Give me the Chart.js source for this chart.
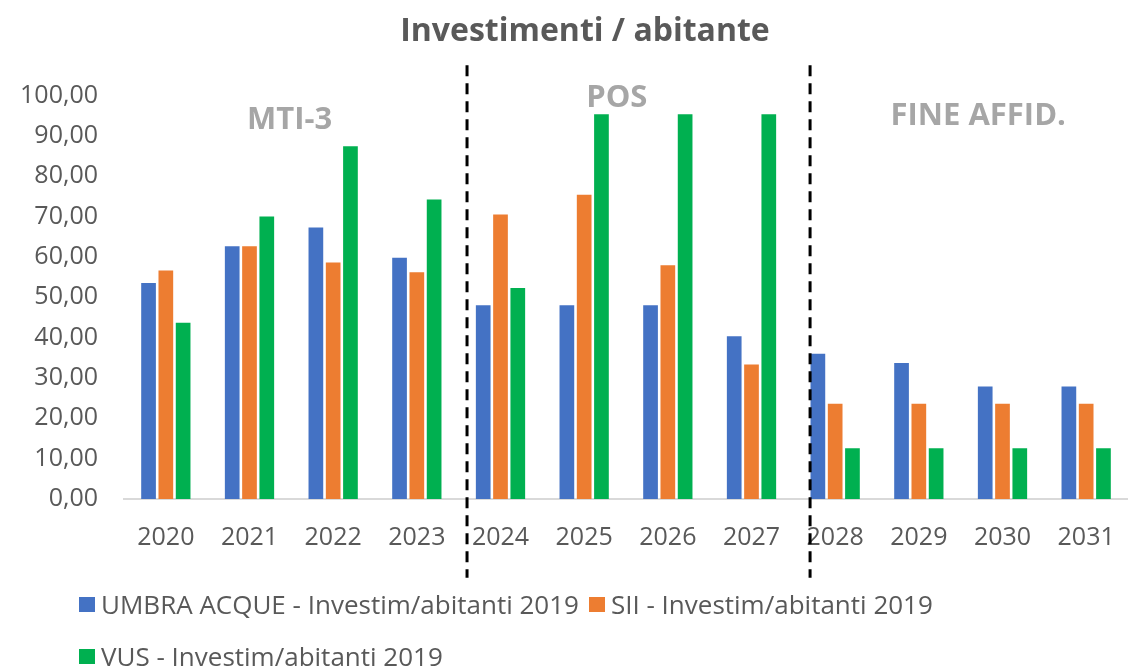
<!DOCTYPE html>
<html>
<head>
<meta charset="utf-8">
<title>Investimenti / abitante</title>
<script src="https://cdn.jsdelivr.net/npm/chart.js"></script>
<style>
  html, body { margin: 0; padding: 0; background: #fff; }
  #wrap { position: relative; width: 1128px; height: 672px; }
  #legend {
    position: absolute; left: 79px; top: 578px; width: 1000px;
    display: flex; flex-wrap: wrap;
    font-family: 'Open Sans', sans-serif; font-size: 26px; color: #595959;
    line-height: 52px;
  }
  #legend .item { display: flex; align-items: center; margin-right: 10px; white-space: nowrap; }
  #legend .box { width: 16px; height: 15px; margin-right: 6px; }
</style>
</head>
<body>
<div id="wrap">
  <canvas id="myChart"></canvas>
  <div id="legend"></div>
</div>
<script>
'use strict';

// dati
var years = ["2020", "2021", "2022", "2023", "2024", "2025", "2026", "2027", "2028", "2029", "2030", "2031"];
var seriesNames = [
  "UMBRA ACQUE - Investim/abitanti 2019",
  "SII - Investim/abitanti 2019",
  "VUS - Investim/abitanti 2019"
];
var umbraAcque = [53.5, 62.6, 67.3, 59.8, 48.0, 48.0, 48.0, 40.3, 36.0, 33.7, 27.9, 27.9];
var sii = [56.6, 62.6, 58.6, 56.2, 70.5, 75.4, 57.9, 33.3, 23.6, 23.6, 23.6, 23.6];
var vus = [43.7, 70.0, 87.4, 74.2, 52.3, 95.3, 95.3, 95.3, 12.6, 12.6, 12.6, 12.6];
var yTicks = [0, 10, 20, 30, 40, 50, 60, 70, 80, 90, 100];
var periodLabels = ["MTI-3", "POS", "FINE AFFID."];

// posizioni (indice categoria, valore) delle scritte e delle linee tratteggiate
var periodLabelPos = [[1.48, 93.8], [5.39, 99.3], [9.71, 94.8]];
var separators = [3.6, 7.7];

var textGrey = '#595959';
Chart.defaults.font.family = "'Open Sans', sans-serif";
Chart.defaults.color = textGrey;

function catPixel(scale, v) {
  var i = Math.floor(v);
  var step = scale.getPixelForValue(1) - scale.getPixelForValue(0);
  return scale.getPixelForValue(i) + (v - i) * step;
}

// legenda in html (due righe come in Excel)
var htmlLegendPlugin = {
  id: 'htmlLegend',
  afterUpdate: function (chart) {
    var box = document.getElementById('legend');
    box.innerHTML = '';
    var items = chart.options.plugins.legend.labels.generateLabels(chart);
    items.forEach(function (item) {
      var el = document.createElement('div');
      el.className = 'item';
      var sq = document.createElement('span');
      sq.className = 'box';
      sq.style.background = item.fillStyle;
      var txt = document.createElement('span');
      txt.textContent = item.text;
      el.appendChild(sq);
      el.appendChild(txt);
      box.appendChild(el);
    });
  }
};

var periodPlugin = {
  id: 'periods',
  afterLayout: function (chart) {
    // titolo centrato come nel grafico Excel
    chart.titleBlock.left = 42;
    chart.titleBlock.right = 1128;
  },
  afterDatasetsDraw: function (chart) {
    var ctx = chart.ctx;
    var xs = chart.scales.x;
    var ys = chart.scales.y;
    ctx.save();
    // linee tratteggiate
    ctx.strokeStyle = '#000000';
    ctx.lineWidth = 3;
    ctx.setLineDash([11, 7]);
    separators.forEach(function (s) {
      var px = catPixel(xs, s);
      ctx.beginPath();
      ctx.moveTo(px, ys.getPixelForValue(107.5));
      ctx.lineTo(px, ys.getPixelForValue(-19.5));
      ctx.stroke();
    });
    // scritte dei periodi
    ctx.setLineDash([]);
    ctx.fillStyle = '#a6a6a6';
    ctx.font = "bold 31px 'Open Sans', sans-serif";
    ctx.textAlign = 'center';
    ctx.textBaseline = 'middle';
    periodLabels.forEach(function (t, i) {
      ctx.fillText(t, catPixel(xs, periodLabelPos[i][0]), ys.getPixelForValue(periodLabelPos[i][1]));
    });
    ctx.restore();
  }
};

var ctx = document.getElementById("myChart");
var myChart = new Chart(ctx, {
  type: 'bar',
  data: {
    labels: years,
    datasets: [
      { label: seriesNames[0], data: umbraAcque, backgroundColor: '#4472c4', borderWidth: 0 },
      { label: seriesNames[1], data: sii, backgroundColor: '#ed7d31', borderWidth: 0 },
      { label: seriesNames[2], data: vus, backgroundColor: '#00b050', borderWidth: 0 }
    ]
  },
  plugins: [periodPlugin, htmlLegendPlugin],
  options: {
    responsive: true,
    maintainAspectRatio: false,
    animation: false,
    categoryPercentage: 0.62,
    barPercentage: 0.85,
    layout: { padding: { left: 12, right: 0, top: 0, bottom: 108 } },
    plugins: {
      title: {
        display: true,
        text: 'Investimenti / abitante',
        color: textGrey,
        font: { size: 32, weight: 'bold' },
        padding: { top: 13, bottom: 44 }
      },
      legend: { display: false },
      tooltip: { enabled: false }
    },
    scales: {
      x: {
        grid: { display: false, drawTicks: false },
        border: { color: '#d9d9d9', width: 2 },
        ticks: { color: textGrey, font: { size: 25, lineHeight: 2.96 }, padding: 2, maxRotation: 0 },
        afterFit: function (scale) { scale.height = 65; }
      },
      y: {
        min: 0,
        max: 100,
        grid: { display: false, drawTicks: false },
        border: { display: false },
        afterBuildTicks: function (scale) {
          scale.ticks = yTicks.map(function (v) { return { value: v }; });
        },
        ticks: {
          color: textGrey,
          font: { size: 25 },
          padding: 26,
          callback: function (v) { return Number(v).toFixed(2).replace('.', ','); }
        },
        afterFit: function (scale) { scale.width = 112; }
      }
    }
  }
});
</script>
</body>
</html>
